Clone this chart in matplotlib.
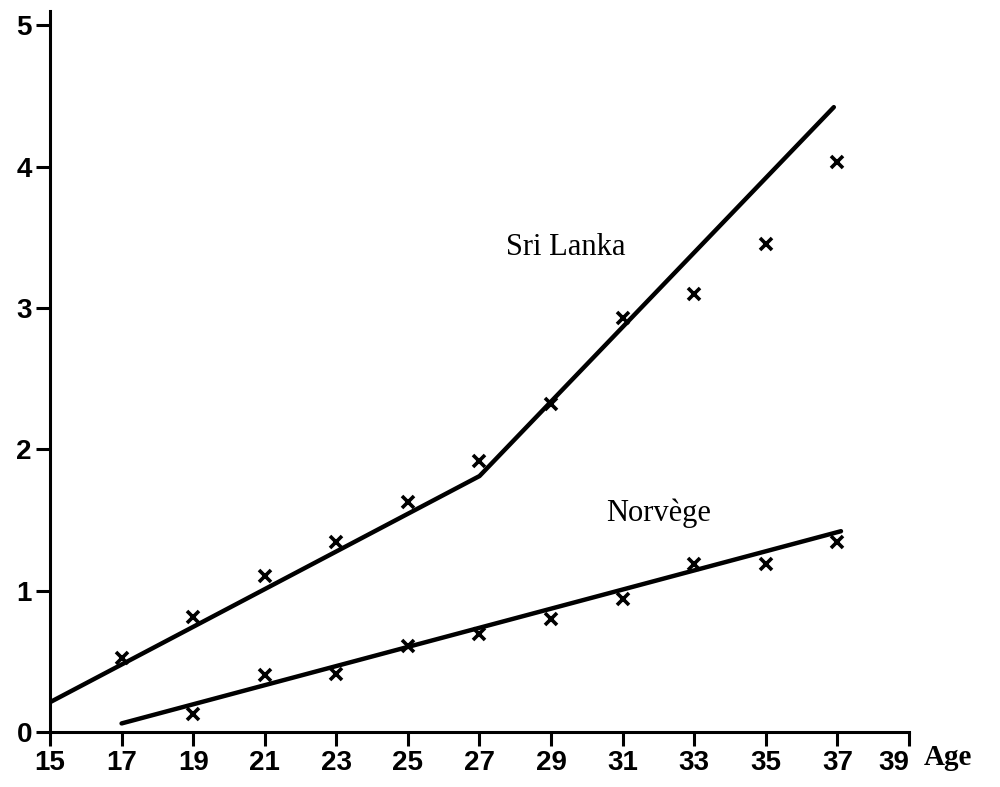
import matplotlib
matplotlib.use("Agg")
import matplotlib.pyplot as plt

# observed points, ages 17..37 (Sri Lanka) and 19..37 (Norway)
ages_sl = [17, 19, 21, 23, 25, 27, 29, 31, 33, 35, 37]
vals_sl = [0.52, 0.81, 1.10, 1.34, 1.63, 1.92, 2.32, 2.93, 3.10, 3.45, 4.03]
ages_no = [19, 21, 23, 25, 27, 29, 31, 33, 35, 37]
vals_no = [0.13, 0.40, 0.41, 0.61, 0.69, 0.80, 0.94, 1.19, 1.19, 1.34]

# fitted trend lines
fit_sl_x = [15, 27, 36.9]
fit_sl_y = [0.21, 1.81, 4.42]
fit_no_x = [17, 37.1]
fit_no_y = [0.06, 1.42]

xticks = list(range(15, 40, 2))
yticks = [0, 1, 2, 3, 4, 5]

fig = plt.figure(figsize=(10, 7.87), dpi=100)
ax = fig.add_axes([0.05, 0.07, 0.859, 0.916])

ax.plot(fit_sl_x, fit_sl_y, color="black", lw=3.2, solid_capstyle="round")
ax.plot(fit_no_x, fit_no_y, color="black", lw=3.2, solid_capstyle="round")
ax.plot(ages_sl, vals_sl, "x", color="black", ms=9, mew=2.6)
ax.plot(ages_no, vals_no, "x", color="black", ms=9, mew=2.6)

ax.text(29.4, 3.43, "Sri Lanka", family="Liberation Serif", fontsize=22,
        ha="center", va="center")
ax.text(32.0, 1.55, "Norvège", family="Liberation Serif", fontsize=22,
        ha="center", va="center")

ax.set_xlim(15, 39)
ax.set_ylim(0, 5.1)
ax.set_xticks(xticks)
ax.set_yticks(yticks)
tick_font = dict(family="Liberation Sans", weight="bold", size=20)
ax.set_xticklabels([str(t) for t in xticks], **tick_font)
ax.set_yticklabels([str(t) for t in yticks], **tick_font)
ax.tick_params(axis="both", direction="out", length=10, width=2.2,
               color="black", pad=3)
# last age label sits a little left of its tick, leaving room for "Age"
ax.get_xticklabels()[-1].set_horizontalalignment("right")
ax.get_xticklabels()[-1].set_x(39.35)

for side in ["top", "right"]:
    ax.spines[side].set_visible(False)
for side in ["left", "bottom"]:
    ax.spines[side].set_linewidth(2.2)

fig.text(0.948, 0.038, "Age", family="Liberation Serif", weight="bold",
         fontsize=21, ha="center", va="center")

fig.savefig("out.png", dpi=100, facecolor="white")
